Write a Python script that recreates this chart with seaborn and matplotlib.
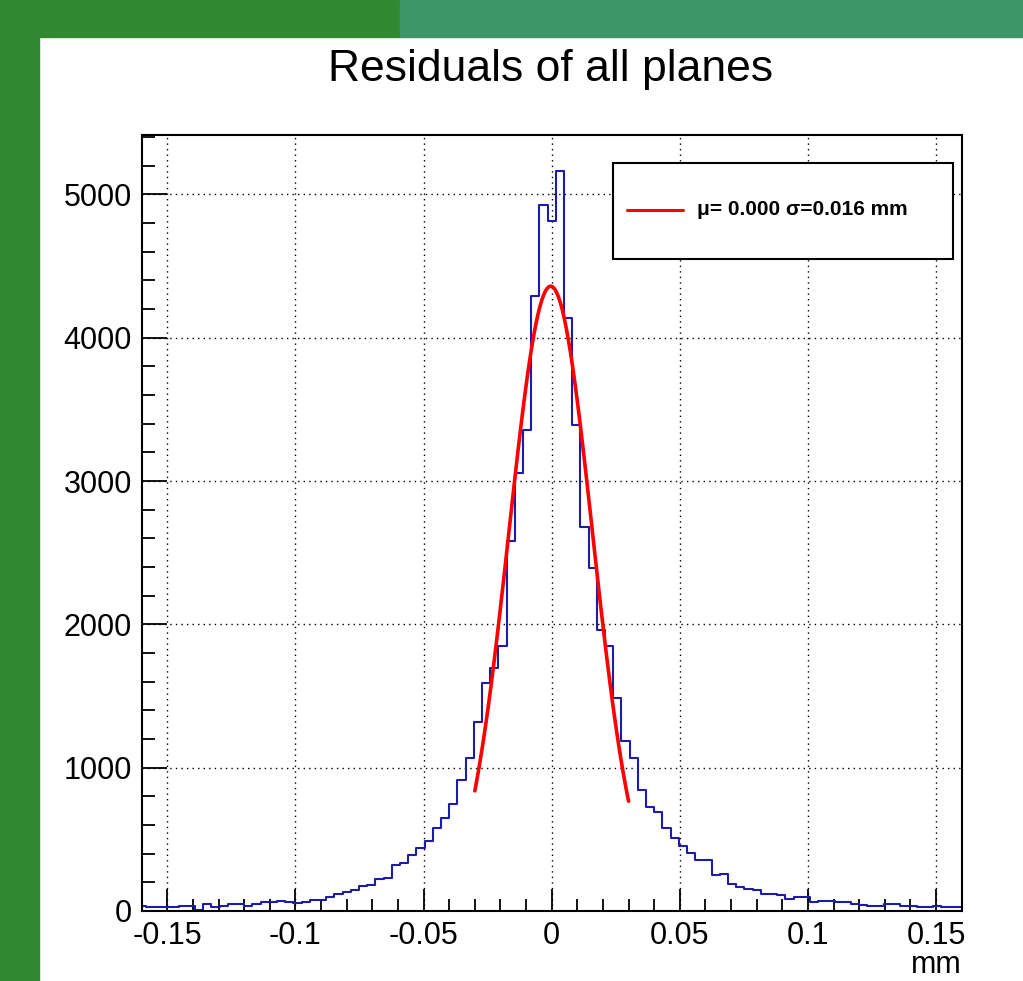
import numpy as np
import pandas as pd
import matplotlib
matplotlib.use("Agg")
import matplotlib.pyplot as plt
from matplotlib.patches import Rectangle
from matplotlib.ticker import MultipleLocator
import seaborn as sns

# histogram of residuals: bin width 0.0032 mm, bins centred on multiples of the width
bin_width = 0.0032
bin_index = np.arange(-50, 51)
counts = [
    35, 25, 25, 25, 25, 37, 37, 7, 49, 27,
    37, 48, 48, 38, 52, 62, 62, 70, 62, 58,
    64, 76, 78, 95, 120, 135, 148, 174, 181, 226,
    230, 321, 333, 391, 440, 490, 580, 650, 750, 915,
    1070, 1317, 1590, 1693, 1847, 2583, 3055, 3355, 4292, 4930,
    4815,
    5165, 4136, 3390, 2680, 2395, 1960, 1850, 1488, 1186, 1070,
    846, 725, 688, 580, 510, 454, 402, 356, 356, 250,
    260, 190, 165, 153, 144, 121, 121, 110, 84, 97,
    97, 60, 70, 70, 60, 60, 49, 45, 38, 38,
    50, 50, 37, 37, 26, 26, 37, 26, 26, 26,
]

# gaussian fit drawn over [-0.03, 0.03]
fit_amp = 4360
fit_mu = -0.0004
fit_sigma = 0.0163
fit_range = (-0.03, 0.03)
legend_label = "\u03bc= 0.000 \u03c3=0.016 mm"

x_ticks = [-0.15, -0.1, -0.05, 0, 0.05, 0.1, 0.15]
x_tick_labels = ["-0.15", "-0.1", "-0.05", "0", "0.05", "0.1", "0.15"]
y_ticks = [0, 1000, 2000, 3000, 4000, 5000]

df = pd.DataFrame({"x": bin_index * bin_width, "n": counts})
half = 50.5 * bin_width

sns.set_style("white")
plt.rcParams["font.family"] = ["Liberation Sans", "DejaVu Sans"]
plt.rcParams["text.color"] = "black"
plt.rcParams["xtick.color"] = "black"
plt.rcParams["ytick.color"] = "black"

fig = plt.figure(figsize=(10.23, 9.81), dpi=100)
W, H = 1023, 981

# slide background around the canvas
fig.patches.append(Rectangle((0, 0), 39 / W, 1, transform=fig.transFigure, color="#2f8a2f", zorder=-5))
fig.patches.append(Rectangle((0, 1 - 37 / H), 400 / W, 37 / H, transform=fig.transFigure, color="#2f8a2f", zorder=-5))
fig.patches.append(Rectangle((400 / W, 1 - 37 / H), 1, 37 / H, transform=fig.transFigure, color="#3e9568", zorder=-5))

ax = fig.add_axes([141.7 / W, (H - 911) / H, 820 / W, 776 / H])

sns.histplot(data=df, x="x", weights="n", bins=len(counts), binrange=(-half, half),
             element="step", fill=False, color="#1c1ca6", linewidth=1.5, ax=ax)

fx = np.linspace(fit_range[0], fit_range[1], 120)
fy = fit_amp * np.exp(-0.5 * ((fx - fit_mu) / fit_sigma) ** 2)
sns.lineplot(x=fx, y=fy, color="red", linewidth=2.6, ax=ax)

ax.set_xlim(-0.16, 0.16)
ax.set_ylim(0, 5415)
ax.set_xticks(x_ticks)
ax.set_xticklabels(x_tick_labels)
ax.set_yticks(y_ticks)
ax.xaxis.set_minor_locator(MultipleLocator(0.01))
ax.yaxis.set_minor_locator(MultipleLocator(200))
ax.grid(True, which="major", color="black", linestyle=(0, (1, 3)), linewidth=1.0)
ax.set_axisbelow(True)
ax.tick_params(which="both", bottom=True, left=True, top=False, right=False, direction="in")
ax.tick_params(axis="x", which="major", length=16, width=1.3, labelsize=22, pad=7.5)
ax.tick_params(axis="y", which="major", length=18, width=1.3, labelsize=22, pad=7)
ax.tick_params(which="minor", length=9, width=1.3)
for s in ax.spines.values():
    s.set_color("black")
    s.set_linewidth(1.5)
ax.set_xlabel("")
ax.set_ylabel("")
ax.text(1.0, (911 - 965) / 776, "mm", transform=ax.transAxes, ha="right", va="center", fontsize=22)

fig.text(551 / W, 1 - 70 / H, "Residuals of all planes", ha="center", va="center", fontsize=32)

# legend box
ax.add_patch(Rectangle((0.5751, 0.8398), 0.4139, 0.1237, transform=ax.transAxes,
                       facecolor="white", edgecolor="black", linewidth=1.5, zorder=5))
ax.plot([0.5915, 0.6605], [0.9034, 0.9034], transform=ax.transAxes, color="red", linewidth=2.2, zorder=6)
ax.text(0.6772, 0.9034, legend_label, transform=ax.transAxes, ha="left", va="center",
        fontsize=15, fontweight="bold", zorder=6)

fig.savefig("out.png", dpi=100)
